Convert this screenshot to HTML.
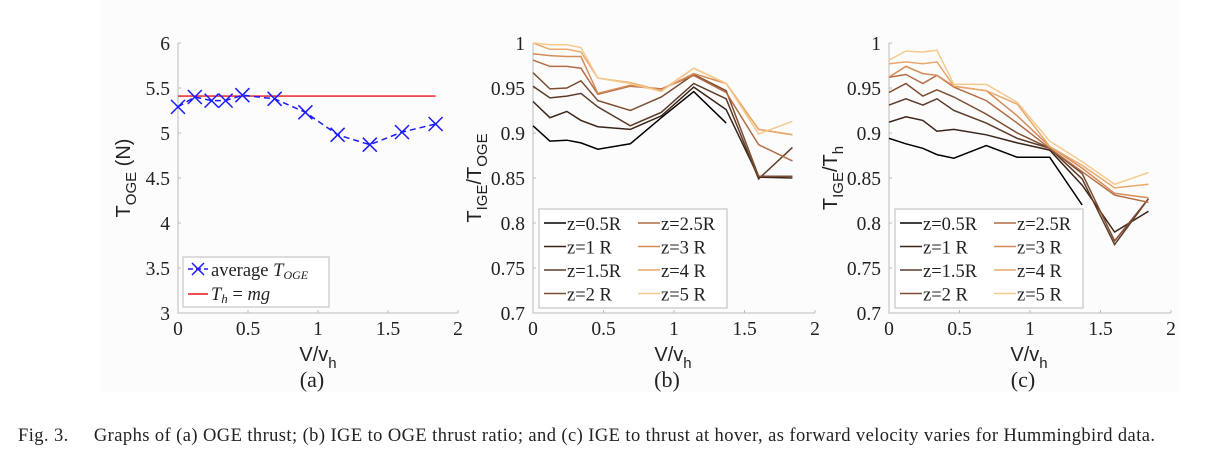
<!DOCTYPE html>
<html><head><meta charset="utf-8"><style>
body{margin:0;background:#fff;width:1231px;height:462px;overflow:hidden}
svg{display:block}
text{font-family:"Liberation Serif",serif;fill:#222}
.sans{font-family:"Liberation Sans",sans-serif}
</style></head><body>
<svg id="fig" width="1231" height="462">
<rect x="100" y="0" width="1080" height="392" fill="#fcfcfc"/>
<text x="18" y="441" font-size="18.5" textLength="1137" lengthAdjust="spacing">Fig. 3.&#160;&#160;&#160;&#160; Graphs of (a) OGE thrust; (b) IGE to OGE thrust ratio; and (c) IGE to thrust at hover, as forward velocity varies for Hummingbird data.</text>
</svg>
<script>
const xs=[0,0.12,0.24,0.34,0.46,0.69,0.91,1.14,1.37,1.60,1.84];
const ogeVals=[5.29,5.40,5.36,5.36,5.42,5.38,5.23,4.98,4.87,5.01,5.10];
const hoverThrust=5.41;
const zLabels=["z=0.5R","z=1 R","z=1.5R","z=2 R","z=2.5R","z=3 R","z=4 R","z=5 R"];
const zColors=["#000000","#3b2519","#5c3b28","#7d4e31","#b36d44","#d48d5a","#eaa96a","#f6c98c"];
const ratioB=[
[0.908,0.891,0.892,0.889,0.882,0.888,0.917,0.946,0.911],
[0.935,0.917,0.924,0.914,0.907,0.904,0.919,0.951,0.926,0.851,0.850],
[0.952,0.939,0.941,0.944,0.929,0.908,0.923,0.955,0.938,0.849,0.884],
[0.967,0.949,0.950,0.958,0.936,0.925,0.940,0.965,0.947,0.852,0.852],
[0.981,0.974,0.974,0.972,0.943,0.952,0.949,0.964,0.945,0.887,0.869],
[0.988,0.986,0.985,0.985,0.944,0.953,0.948,0.966,0.955,0.904,0.898],
[1.000,0.993,0.993,0.990,0.961,0.956,0.947,0.972,0.955,0.904,0.898],
[1.000,0.998,0.998,0.995,0.961,0.955,0.946,0.972,0.955,0.899,0.913]];
const ratioC=[
[0.894,0.888,0.883,0.876,0.872,0.886,0.873,0.873,0.820],
[0.912,0.918,0.914,0.902,0.904,0.898,0.889,0.881,0.842,0.790,0.813],
[0.931,0.938,0.931,0.938,0.925,0.911,0.894,0.883,0.849,0.776,0.827],
[0.945,0.955,0.941,0.948,0.940,0.921,0.900,0.883,0.855,0.780,0.827],
[0.962,0.965,0.955,0.964,0.951,0.936,0.911,0.883,0.857,0.831,0.823],
[0.962,0.974,0.966,0.964,0.952,0.947,0.919,0.885,0.861,0.833,0.828],
[0.977,0.979,0.977,0.979,0.952,0.947,0.932,0.885,0.864,0.839,0.843],
[0.981,0.991,0.990,0.992,0.954,0.954,0.934,0.891,0.868,0.843,0.856]];
const xTicks=[0,0.5,1,1.5,2];
const yTicksA=[3,3.5,4,4.5,5,5.5,6];
const yTicksBC=[0.7,0.75,0.8,0.85,0.9,0.95,1];
const yTickLabelsBC=["0.7","0.75","0.8","0.85","0.9","0.95","1"];

const NS="http://www.w3.org/2000/svg";
const svg=document.getElementById('fig');
function el(tag,attrs,parent){const e=document.createElementNS(NS,tag);for(const k in attrs)e.setAttribute(k,attrs[k]);(parent||svg).appendChild(e);return e;}
const TOP=43,BOT=313;
function axes(x0,x1,ymin,ymax,yt,ytl,name){
  const g=el('g',{});
  
  
  const sx=v=>x0+(x1-x0)*v/2;
  const sy=v=>BOT-(BOT-TOP)*(v-ymin)/(ymax-ymin);
  const ax=el('path',{d:`M${x0} ${TOP}V${BOT}H${x1}`,stroke:'#bbb',fill:'none','stroke-width':1},g);
  
  
  xTicks.forEach(t=>{
    el('line',{x1:sx(t),x2:sx(t),y1:BOT,y2:BOT-3,stroke:'#bbb'},g);
    const tx=el('text',{x:sx(t),y:BOT+22,'font-size':19.5,'text-anchor':'middle'},g);
    tx.textContent=String(t);
    
    
  });
  yt.forEach((t,i)=>{
    el('line',{x1:x0,x2:x0+3,y1:sy(t),y2:sy(t),stroke:'#bbb'},g);
    const tx=el('text',{x:x0-8,y:sy(t)+7,'font-size':19.5,'text-anchor':'end'},g);
    tx.textContent=ytl[i];
    
    
  });
  return {sx,sy,g};
}
function xlabel(cx,letter){
  const t=el('text',{x:cx,y:361,'font-size':20,'text-anchor':'middle',class:'sans'});
  t.innerHTML='V/v<tspan dy="7" font-size="15">h</tspan>';
  
  
  const p=el('text',{x:cx-6,y:387,'font-size':22,'text-anchor':'middle'});
  p.textContent='('+letter+')';
  
  
}
function ylabel(x,cy,html){
  const t=el('text',{x:0,y:0,'font-size':20,'text-anchor':'middle',class:'sans',transform:`translate(${x},${cy}) rotate(-90)`});
  t.innerHTML=html;
  
  
}
// Panel A
const A=axes(178,458,3,6,yTicksA,yTicksA.map(String),'panel-a');
const hl=el('line',{x1:A.sx(0),x2:A.sx(1.84),y1:A.sy(hoverThrust),y2:A.sy(hoverThrust),stroke:'#e8141c','stroke-width':1.4});


const pts=xs.map((x,i)=>A.sx(x)+','+A.sy(ogeVals[i])).join(' ');
const ol=el('polyline',{points:pts,fill:'none',stroke:'#1a1aff','stroke-width':1.5,'stroke-dasharray':'6 4'});


xs.forEach((x,i)=>{
  const cx=A.sx(x),cy=A.sy(ogeVals[i]);
  const m=el('path',{d:`M${cx-7} ${cy-7}L${cx+7} ${cy+7}M${cx-7} ${cy+7}L${cx+7} ${cy-7}`,stroke:'#1a1aff','stroke-width':1.5});
  
  
});
const lgA=el('g',{});


el('rect',{x:183,y:257,width:146,height:50,fill:'#fff',stroke:'#bbb'},lgA);
el('line',{x1:188,x2:208,y1:269,y2:269,stroke:'#1a1aff','stroke-width':1.5,'stroke-dasharray':'5 3'},lgA);
el('path',{d:'M192 263L204 275M192 275L204 263',stroke:'#1a1aff','stroke-width':1.5},lgA);
let t=el('text',{x:211,y:276,'font-size':18.5},lgA);t.innerHTML='average <tspan font-style="italic">T</tspan><tspan font-style="italic" font-size="12" dy="3">OGE</tspan>';
el('line',{x1:188,x2:208,y1:294,y2:294,stroke:'#e8141c','stroke-width':1.4},lgA);
t=el('text',{x:211,y:300,'font-size':18.5,'font-style':'italic'},lgA);t.innerHTML='T<tspan font-size="13" dy="3">h</tspan><tspan dy="-3" font-style="normal"> = </tspan>mg';
xlabel(318,'a');
ylabel(130,178,'T<tspan dy="6" font-size="15">OGE</tspan><tspan dy="-6"> (N)</tspan>');

function ratioPanel(x0,data,name,ylab){
  const P=axes(x0,x0+282,0.7,1,yTicksBC,yTickLabelsBC,name);
  data.forEach((s,k)=>{
    const p=s.map((v,i)=>P.sx(xs[i])+','+P.sy(v)).join(' ');
    const l=el('polyline',{points:p,fill:'none',stroke:zColors[k],'stroke-width':1.5});
    
    
  });
  const lg=el('g',{});
  
  
  el('rect',{x:x0+6,y:209,width:188,height:99,fill:'#fff',stroke:'#bbb'},lg);
  zLabels.forEach((lab,k)=>{
    const col=k<4?0:1,row=k%4;
    const lx=x0+11+col*94,ly=223+row*23.5;
    el('line',{x1:lx,x2:lx+22,y1:ly,y2:ly,stroke:zColors[k],'stroke-width':1.5},lg);
    const tx=el('text',{x:lx+23,y:ly+7,'font-size':18.5},lg);
    tx.textContent=lab;
    
    
  });
  xlabel(x0+140,name==='panel-b'?'b':'c');
  ylabel(x0-52,178,ylab);
}
ratioPanel(533,ratioB,'panel-b','T<tspan dy="6" font-size="15">IGE</tspan><tspan dy="-6">/T</tspan><tspan dy="6" font-size="15">OGE</tspan>');
ratioPanel(889,ratioC,'panel-c','T<tspan dy="6" font-size="15">IGE</tspan><tspan dy="-6">/T</tspan><tspan dy="6" font-size="15">h</tspan>');
</script>
</body></html>
